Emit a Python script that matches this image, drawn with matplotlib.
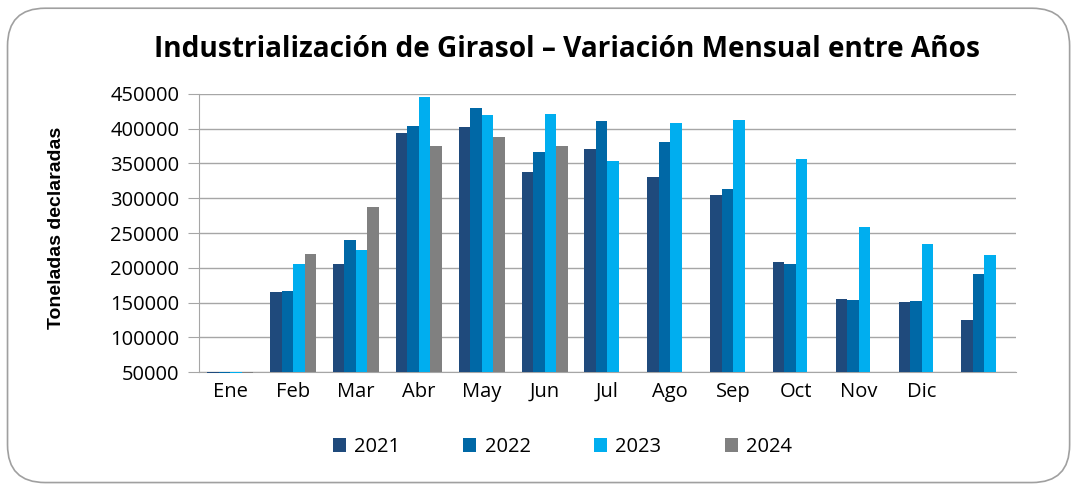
import numpy as np
from matplotlib import pyplot as plt
from matplotlib.patches import FancyBboxPatch

meses = ["Ene", "Feb", "Mar", "Abr", "May", "Jun", "Jul", "Ago", "Sep", "Oct", "Nov", "Dic", ""]
anios = ["2021", "2022", "2023", "2024"]
v2021 = [48500, 165000, 205000, 393600, 402300, 337800, 371000, 330600, 304600, 208300, 155400, 151100, 125600]
v2022 = [48500, 166000, 239600, 404200, 429700, 366700, 410500, 380200, 313700, 205500, 154000, 152500, 190500]
v2023 = [48500, 205400, 226200, 445100, 419200, 420600, 353200, 407600, 411900, 356100, 259400, 233900, 219000]
v2024 = [48500, 219400, 287800, 375400, 387400, 375400, np.nan, np.nan, np.nan, np.nan, np.nan, np.nan, np.nan]
colores = ["#1F4A7C", "#0068A6", "#00AEEF", "#808080"]

base = 50000
fig = plt.figure(figsize=(10.75, 4.84), dpi=100)
fig.patches.append(FancyBboxPatch((0.007, 0.003), 0.988, 0.98, boxstyle="round,pad=0,rounding_size=0.035",
                                  transform=fig.transFigure, fill=False, edgecolor="#A0A0A0", linewidth=1.2,
                                  mutation_aspect=1075 / 484))
ax = fig.add_axes([0.185, 0.231, 0.76, 0.575])

x = np.arange(len(meses))
ancho = 0.183
for i, (serie, col, nombre) in enumerate(zip([v2021, v2022, v2023, v2024], colores, anios)):
    h = np.array(serie, dtype=float) - base
    ax.bar(x + (i - 1.5) * ancho, h, ancho, bottom=base, color=col, label=nombre, clip_on=False, zorder=3)

ax.set_xlim(-0.5, len(meses) - 0.5)
ax.set_ylim(50000, 450000)
ax.set_yticks(np.arange(50000, 450001, 50000))
ax.set_yticklabels([str(v) for v in range(50000, 450001, 50000)], fontsize=14.5, family="Open Sans")
ax.set_xticks(x)
ax.set_xticklabels(meses, fontsize=14.5, family="Open Sans")
ax.yaxis.grid(True, color="#A6A6A6", linewidth=1, zorder=0)
ax.set_axisbelow(True)
for s in ["top", "right"]:
    ax.spines[s].set_visible(False)
ax.spines["left"].set_color("#A6A6A6")
ax.spines["bottom"].set_color("#A6A6A6")
ax.tick_params(axis="y", length=8, color="#A6A6A6", pad=6)
ax.tick_params(axis="x", length=0, pad=7)

ax.set_ylabel("Toneladas declaradas", fontsize=14, fontweight="bold", family="Liberation Sans")
ax.yaxis.set_label_coords(-0.164, 0.52)
fig.text(0.527, 0.897, "Industrialización de Girasol – Variación Mensual entre Años", ha="center", va="center",
         fontsize=20.2, fontweight="bold", family="Open Sans")

fig.legend(loc="center", bbox_to_anchor=(0.523, 0.076), ncol=4, frameon=False,
           prop={"family": "Open Sans", "size": 14.5}, handlelength=0.65, handleheight=0.65, columnspacing=3.15,
           handletextpad=0.4)

plt.savefig("out.png", dpi=100)
